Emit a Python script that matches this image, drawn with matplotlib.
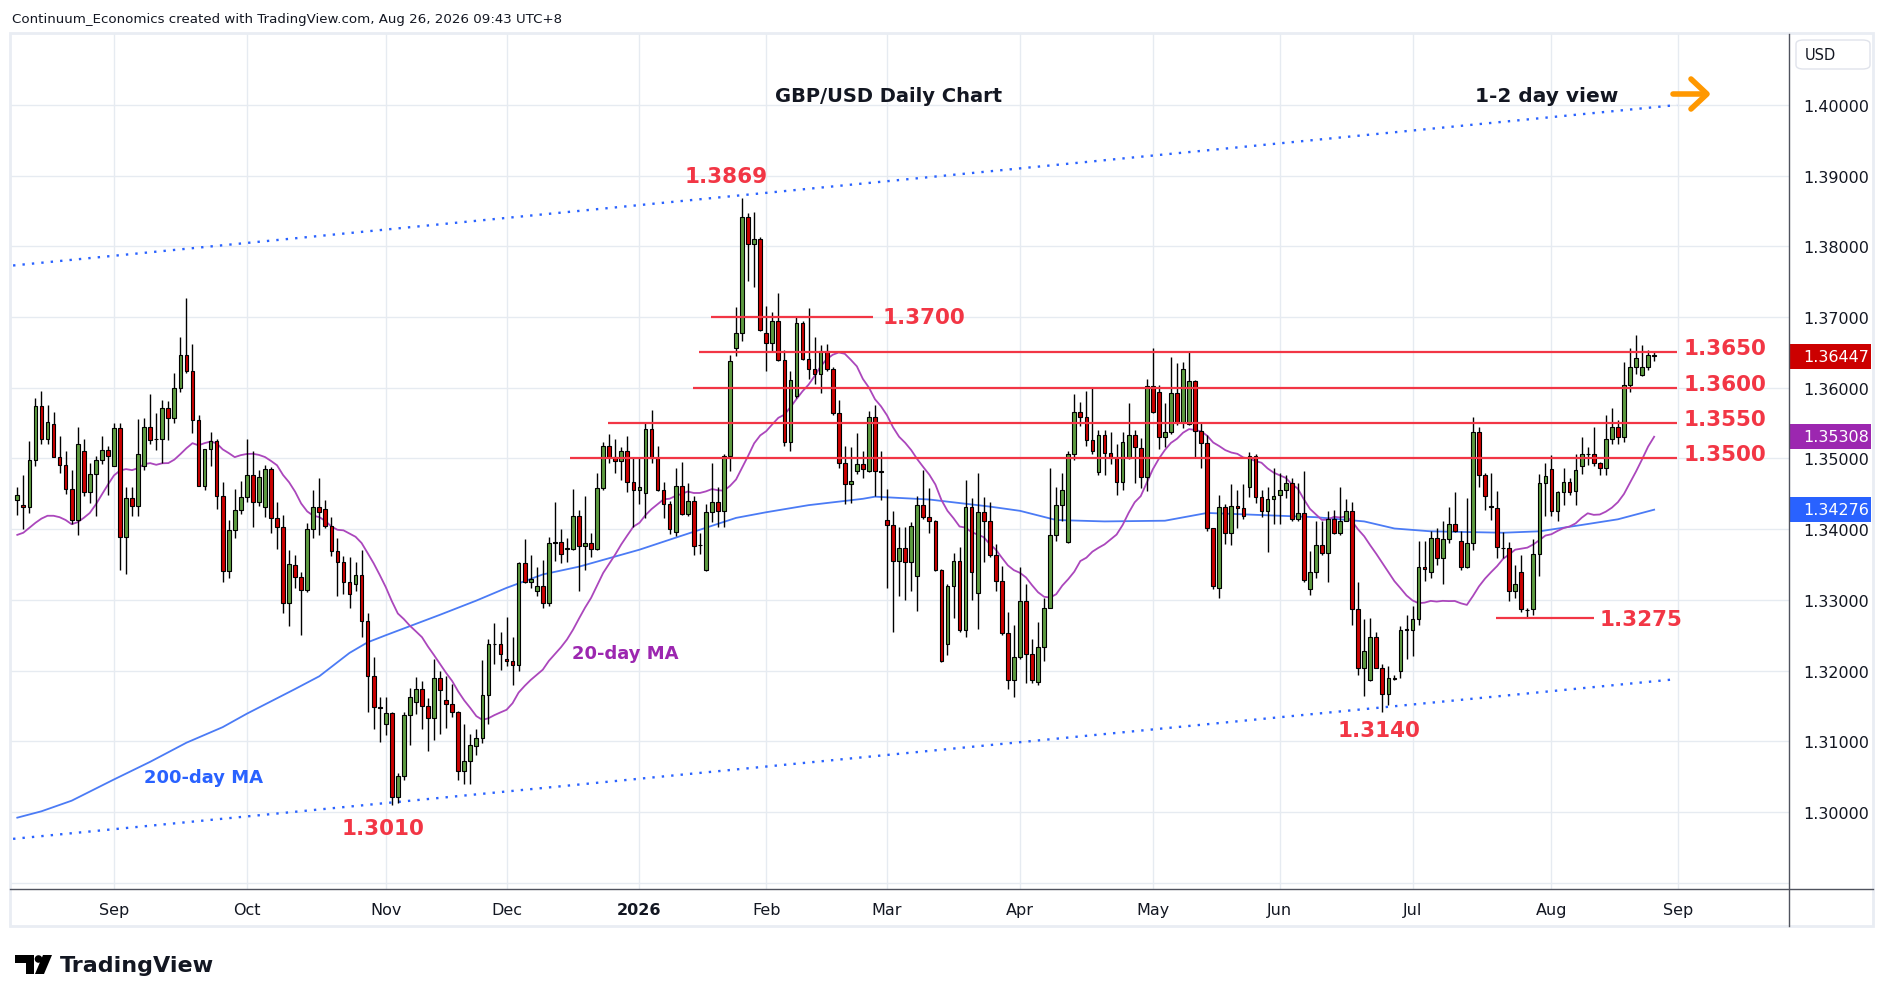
import numpy as np
import pandas as pd
import matplotlib
matplotlib.use("Agg")
import matplotlib.pyplot as plt
from matplotlib.lines import Line2D
from matplotlib.patches import Rectangle, Polygon, Circle, FancyBboxPatch
from matplotlib.transforms import blended_transform_factory, IdentityTransform

W, H = 1889, 1003

# daily GBP/USD candles, 8 Aug 2025 .. 26 Aug 2026
opens = [
    1.3441, 1.3434, 1.3432, 1.3498, 1.3574, 1.3528, 1.3549, 1.3502, 1.3491, 1.3457,
    1.3413, 1.3511, 1.3453, 1.3478, 1.3498, 1.3512, 1.3490, 1.3543, 1.3389, 1.3444,
    1.3433, 1.3490, 1.3545, 1.3528, 1.3528, 1.3571, 1.3557, 1.3600, 1.3647, 1.3624,
    1.3555, 1.3461, 1.3514, 1.3525, 1.3447, 1.3341, 1.3399, 1.3427, 1.3446, 1.3477,
    1.3439, 1.3432, 1.3485, 1.3416, 1.3403, 1.3296, 1.3350, 1.3332, 1.3314, 1.3400,
    1.3432, 1.3429, 1.3404, 1.3369, 1.3354, 1.3325, 1.3322, 1.3335, 1.3270, 1.3193,
    1.3148, 1.3124, 1.3140, 1.3021, 1.3051, 1.3137, 1.3155, 1.3174, 1.3150, 1.3133,
    1.3190, 1.3158, 1.3153, 1.3141, 1.3058, 1.3072, 1.3094, 1.3105, 1.3165, 1.3238,
    1.3238, 1.3217, 1.3213, 1.3208, 1.3352, 1.3325, 1.3313, 1.3320, 1.3295, 1.3382,
    1.3382, 1.3372, 1.3372, 1.3418, 1.3376, 1.3380, 1.3372, 1.3458, 1.3517, 1.3502,
    1.3496, 1.3510, 1.3467, 1.3455, 1.3451, 1.3542, 1.3501, 1.3456, 1.3435, 1.3396,
    1.3461, 1.3421, 1.3440, 1.3378, 1.3342, 1.3424, 1.3438, 1.3426, 1.3503, 1.3657,
    1.3677, 1.3842, 1.3804, 1.3810, 1.3678, 1.3663, 1.3694, 1.3640, 1.3524, 1.3588,
    1.3691, 1.3641, 1.3627, 1.3619, 1.3652, 1.3626, 1.3564, 1.3493, 1.3464, 1.3483,
    1.3492, 1.3483, 1.3559, 1.3482, 1.3413, 1.3406, 1.3355, 1.3374, 1.3354, 1.3334,
    1.3434, 1.3417, 1.3412, 1.3342, 1.3237, 1.3320, 1.3355, 1.3258, 1.3431, 1.3310,
    1.3424, 1.3412, 1.3363, 1.3327, 1.3253, 1.3187, 1.3219, 1.3299, 1.3224, 1.3184,
    1.3233, 1.3289, 1.3392, 1.3434, 1.3382, 1.3506, 1.3566, 1.3558, 1.3526, 1.3481,
    1.3533, 1.3508, 1.3501, 1.3467, 1.3501, 1.3533, 1.3515, 1.3474, 1.3603, 1.3594,
    1.3531, 1.3537, 1.3592, 1.3551, 1.3549, 1.3609, 1.3539, 1.3522, 1.3401, 1.3317,
    1.3432, 1.3394, 1.3433, 1.3430, 1.3459, 1.3503, 1.3446, 1.3426, 1.3443, 1.3448,
    1.3455, 1.3465, 1.3415, 1.3423, 1.3316, 1.3339, 1.3378, 1.3367, 1.3415, 1.3394,
    1.3412, 1.3426, 1.3287, 1.3203, 1.3186, 1.3248, 1.3204, 1.3167, 1.3189, 1.3199,
    1.3258, 1.3258, 1.3273, 1.3346, 1.3340, 1.3388, 1.3359, 1.3386, 1.3408, 1.3383,
    1.3347, 1.3381, 1.3538, 1.3476, 1.3433, 1.3430, 1.3374, 1.3373, 1.3313, 1.3340,
    1.3286, 1.3287, 1.3365, 1.3465, 1.3485, 1.3426, 1.3452, 1.3467, 1.3454, 1.3490,
    1.3507, 1.3506, 1.3494, 1.3486, 1.3527, 1.3544, 1.3531, 1.3604, 1.3630, 1.3618,
    1.3630, 1.3647,
]
highs = [
    1.3460, 1.3477, 1.3525, 1.3586, 1.3596, 1.3576, 1.3566, 1.3532, 1.3510, 1.3484,
    1.3545, 1.3528, 1.3494, 1.3503, 1.3532, 1.3518, 1.3550, 1.3550, 1.3459, 1.3460,
    1.3556, 1.3557, 1.3591, 1.3565, 1.3583, 1.3581, 1.3621, 1.3672, 1.3727, 1.3662,
    1.3561, 1.3514, 1.3537, 1.3528, 1.3467, 1.3413, 1.3457, 1.3468, 1.3528, 1.3511,
    1.3484, 1.3491, 1.3488, 1.3439, 1.3420, 1.3371, 1.3364, 1.3340, 1.3409, 1.3455,
    1.3472, 1.3442, 1.3417, 1.3387, 1.3362, 1.3361, 1.3353, 1.3370, 1.3281, 1.3219,
    1.3162, 1.3162, 1.3142, 1.3055, 1.3142, 1.3175, 1.3191, 1.3185, 1.3161, 1.3216,
    1.3200, 1.3192, 1.3181, 1.3143, 1.3125, 1.3110, 1.3118, 1.3215, 1.3245, 1.3268,
    1.3254, 1.3276, 1.3247, 1.3354, 1.3386, 1.3364, 1.3346, 1.3357, 1.3389, 1.3438,
    1.3400, 1.3387, 1.3457, 1.3427, 1.3447, 1.3394, 1.3479, 1.3524, 1.3535, 1.3527,
    1.3516, 1.3532, 1.3501, 1.3502, 1.3550, 1.3569, 1.3517, 1.3467, 1.3440, 1.3487,
    1.3495, 1.3466, 1.3447, 1.3395, 1.3436, 1.3493, 1.3460, 1.3507, 1.3647, 1.3714,
    1.3869, 1.3847, 1.3849, 1.3814, 1.3716, 1.3707, 1.3734, 1.3654, 1.3624, 1.3702,
    1.3694, 1.3713, 1.3672, 1.3661, 1.3662, 1.3629, 1.3583, 1.3517, 1.3516, 1.3536,
    1.3511, 1.3567, 1.3576, 1.3510, 1.3457, 1.3426, 1.3403, 1.3403, 1.3410, 1.3447,
    1.3484, 1.3458, 1.3413, 1.3344, 1.3322, 1.3366, 1.3375, 1.3469, 1.3444, 1.3480,
    1.3446, 1.3438, 1.3379, 1.3348, 1.3283, 1.3265, 1.3347, 1.3322, 1.3245, 1.3269,
    1.3303, 1.3486, 1.3460, 1.3479, 1.3511, 1.3591, 1.3580, 1.3596, 1.3600, 1.3541,
    1.3541, 1.3537, 1.3520, 1.3537, 1.3578, 1.3541, 1.3529, 1.3612, 1.3657, 1.3604,
    1.3578, 1.3643, 1.3635, 1.3637, 1.3652, 1.3611, 1.3551, 1.3533, 1.3402, 1.3449,
    1.3436, 1.3464, 1.3456, 1.3464, 1.3509, 1.3506, 1.3456, 1.3460, 1.3486, 1.3480,
    1.3477, 1.3472, 1.3465, 1.3483, 1.3369, 1.3411, 1.3411, 1.3426, 1.3427, 1.3460,
    1.3443, 1.3439, 1.3325, 1.3273, 1.3274, 1.3254, 1.3209, 1.3206, 1.3194, 1.3263,
    1.3278, 1.3292, 1.3384, 1.3384, 1.3397, 1.3401, 1.3411, 1.3431, 1.3452, 1.3397,
    1.3444, 1.3558, 1.3544, 1.3480, 1.3480, 1.3454, 1.3396, 1.3382, 1.3349, 1.3363,
    1.3288, 1.3386, 1.3478, 1.3494, 1.3505, 1.3454, 1.3486, 1.3473, 1.3507, 1.3531,
    1.3516, 1.3545, 1.3495, 1.3561, 1.3571, 1.3554, 1.3637, 1.3657, 1.3675, 1.3660,
    1.3653, 1.3650,
]
lows = [
    1.3420, 1.3400, 1.3423, 1.3490, 1.3521, 1.3521, 1.3502, 1.3479, 1.3450, 1.3407,
    1.3392, 1.3447, 1.3437, 1.3418, 1.3492, 1.3448, 1.3490, 1.3342, 1.3336, 1.3418,
    1.3418, 1.3484, 1.3521, 1.3512, 1.3494, 1.3526, 1.3550, 1.3594, 1.3621, 1.3536,
    1.3461, 1.3456, 1.3489, 1.3429, 1.3326, 1.3331, 1.3388, 1.3422, 1.3439, 1.3403,
    1.3433, 1.3417, 1.3395, 1.3372, 1.3282, 1.3263, 1.3317, 1.3250, 1.3311, 1.3387,
    1.3392, 1.3401, 1.3362, 1.3306, 1.3308, 1.3288, 1.3312, 1.3248, 1.3141, 1.3118,
    1.3099, 1.3109, 1.3010, 1.3013, 1.3045, 1.3095, 1.3139, 1.3118, 1.3086, 1.3102,
    1.3110, 1.3119, 1.3134, 1.3045, 1.3039, 1.3039, 1.3081, 1.3098, 1.3125, 1.3210,
    1.3201, 1.3207, 1.3180, 1.3200, 1.3324, 1.3317, 1.3306, 1.3288, 1.3292, 1.3355,
    1.3352, 1.3354, 1.3371, 1.3313, 1.3342, 1.3360, 1.3370, 1.3456, 1.3494, 1.3479,
    1.3470, 1.3452, 1.3403, 1.3435, 1.3416, 1.3494, 1.3454, 1.3416, 1.3393, 1.3390,
    1.3420, 1.3418, 1.3364, 1.3365, 1.3341, 1.3410, 1.3403, 1.3403, 1.3483, 1.3645,
    1.3666, 1.3751, 1.3743, 1.3681, 1.3624, 1.3652, 1.3638, 1.3518, 1.3510, 1.3586,
    1.3639, 1.3612, 1.3605, 1.3592, 1.3624, 1.3562, 1.3487, 1.3435, 1.3437, 1.3478,
    1.3472, 1.3481, 1.3447, 1.3441, 1.3317, 1.3255, 1.3306, 1.3300, 1.3313, 1.3285,
    1.3415, 1.3395, 1.3341, 1.3212, 1.3222, 1.3275, 1.3254, 1.3247, 1.3300, 1.3259,
    1.3353, 1.3361, 1.3313, 1.3251, 1.3174, 1.3162, 1.3217, 1.3183, 1.3183, 1.3179,
    1.3214, 1.3288, 1.3384, 1.3412, 1.3380, 1.3498, 1.3546, 1.3518, 1.3507, 1.3477,
    1.3477, 1.3492, 1.3449, 1.3456, 1.3499, 1.3466, 1.3458, 1.3454, 1.3564, 1.3514,
    1.3516, 1.3534, 1.3547, 1.3543, 1.3547, 1.3501, 1.3486, 1.3397, 1.3316, 1.3303,
    1.3379, 1.3377, 1.3401, 1.3415, 1.3446, 1.3437, 1.3417, 1.3368, 1.3408, 1.3407,
    1.3444, 1.3412, 1.3411, 1.3326, 1.3307, 1.3331, 1.3364, 1.3326, 1.3393, 1.3392,
    1.3411, 1.3264, 1.3194, 1.3164, 1.3185, 1.3203, 1.3141, 1.3152, 1.3187, 1.3190,
    1.3216, 1.3220, 1.3265, 1.3327, 1.3331, 1.3350, 1.3323, 1.3380, 1.3396, 1.3342,
    1.3345, 1.3371, 1.3460, 1.3427, 1.3413, 1.3359, 1.3359, 1.3299, 1.3303, 1.3283,
    1.3274, 1.3278, 1.3334, 1.3418, 1.3418, 1.3411, 1.3434, 1.3448, 1.3434, 1.3478,
    1.3491, 1.3490, 1.3477, 1.3477, 1.3521, 1.3521, 1.3524, 1.3594, 1.3619, 1.3616,
    1.3625, 1.3638,
]
closes = [
    1.3449, 1.3432, 1.3498, 1.3574, 1.3528, 1.3552, 1.3502, 1.3491, 1.3457, 1.3413,
    1.3521, 1.3453, 1.3478, 1.3498, 1.3512, 1.3504, 1.3543, 1.3389, 1.3444, 1.3433,
    1.3506, 1.3545, 1.3526, 1.3527, 1.3571, 1.3557, 1.3600, 1.3647, 1.3624, 1.3555,
    1.3461, 1.3514, 1.3525, 1.3447, 1.3341, 1.3399, 1.3427, 1.3446, 1.3477, 1.3439,
    1.3474, 1.3485, 1.3416, 1.3403, 1.3296, 1.3351, 1.3333, 1.3314, 1.3400, 1.3432,
    1.3424, 1.3404, 1.3369, 1.3354, 1.3325, 1.3309, 1.3335, 1.3270, 1.3193, 1.3148,
    1.3147, 1.3140, 1.3021, 1.3051, 1.3137, 1.3162, 1.3174, 1.3150, 1.3133, 1.3190,
    1.3172, 1.3153, 1.3141, 1.3058, 1.3072, 1.3095, 1.3105, 1.3165, 1.3238, 1.3237,
    1.3224, 1.3213, 1.3208, 1.3352, 1.3325, 1.3330, 1.3320, 1.3295, 1.3381, 1.3381,
    1.3365, 1.3373, 1.3418, 1.3376, 1.3380, 1.3372, 1.3458, 1.3517, 1.3502, 1.3496,
    1.3510, 1.3467, 1.3455, 1.3459, 1.3542, 1.3501, 1.3456, 1.3435, 1.3400, 1.3461,
    1.3421, 1.3440, 1.3376, 1.3377, 1.3424, 1.3438, 1.3426, 1.3503, 1.3638, 1.3677,
    1.3842, 1.3804, 1.3810, 1.3682, 1.3663, 1.3694, 1.3640, 1.3524, 1.3611, 1.3691,
    1.3641, 1.3627, 1.3619, 1.3652, 1.3626, 1.3564, 1.3493, 1.3464, 1.3468, 1.3492,
    1.3485, 1.3559, 1.3482, 1.3481, 1.3406, 1.3355, 1.3374, 1.3354, 1.3405, 1.3434,
    1.3417, 1.3412, 1.3342, 1.3214, 1.3320, 1.3355, 1.3258, 1.3431, 1.3340, 1.3424,
    1.3412, 1.3363, 1.3327, 1.3253, 1.3187, 1.3219, 1.3299, 1.3224, 1.3186, 1.3233,
    1.3289, 1.3392, 1.3434, 1.3456, 1.3506, 1.3566, 1.3558, 1.3526, 1.3511, 1.3533,
    1.3508, 1.3501, 1.3467, 1.3523, 1.3533, 1.3516, 1.3474, 1.3603, 1.3566, 1.3531,
    1.3537, 1.3592, 1.3551, 1.3627, 1.3609, 1.3539, 1.3522, 1.3401, 1.3319, 1.3432,
    1.3394, 1.3433, 1.3430, 1.3419, 1.3503, 1.3446, 1.3426, 1.3443, 1.3447, 1.3455,
    1.3465, 1.3415, 1.3423, 1.3328, 1.3339, 1.3378, 1.3366, 1.3415, 1.3394, 1.3412,
    1.3426, 1.3287, 1.3203, 1.3228, 1.3248, 1.3204, 1.3167, 1.3189, 1.3188, 1.3257,
    1.3259, 1.3273, 1.3346, 1.3344, 1.3388, 1.3359, 1.3386, 1.3408, 1.3397, 1.3347,
    1.3381, 1.3538, 1.3476, 1.3447, 1.3431, 1.3375, 1.3374, 1.3313, 1.3322, 1.3287,
    1.3286, 1.3365, 1.3465, 1.3475, 1.3426, 1.3452, 1.3467, 1.3453, 1.3484, 1.3507,
    1.3507, 1.3494, 1.3486, 1.3527, 1.3544, 1.3531, 1.3604, 1.3630, 1.3642, 1.3630,
    1.3647, 1.36447,
]

# 20-day MA before 20 closes are available
ma20_head = [1.3392, 1.3395, 1.3402, 1.3409, 1.3415, 1.3419, 1.3419, 1.3417, 1.3413, 1.3407,
             1.3410, 1.3416, 1.3423, 1.3435, 1.3449, 1.3463, 1.3476, 1.3483, 1.3485]

# 200-day MA sampled along the blue line (bar number, value)
ma200_bar = [0, 4, 9, 16, 22, 28, 34, 38, 46, 50, 55, 58, 61, 70, 76, 81, 87, 93, 103, 109,
             114, 119, 124, 131, 140, 142, 151, 161, 166, 172, 180, 190, 197, 206, 215, 223,
             228, 234, 246, 252, 259, 265, 271]
ma200_val = [1.2992, 1.3001, 1.3016, 1.3046, 1.3071, 1.3098, 1.3120, 1.3139, 1.3174, 1.3192,
             1.3225, 1.3240, 1.3250, 1.3279, 1.3299, 1.3317, 1.3336, 1.3347, 1.3371, 1.3388,
             1.3402, 1.3416, 1.3424, 1.3434, 1.3443, 1.3446, 1.3442, 1.3432, 1.3426, 1.3413,
             1.3411, 1.3412, 1.3423, 1.3420, 1.3417, 1.3411, 1.3401, 1.3397, 1.3395, 1.3397,
             1.3406, 1.3414, 1.34276]

right_levels = [1.3650, 1.3600, 1.3550, 1.3500]
right_starts = [112.8, 111.8, 97.8, 91.5]
pivot_text = ["1.3869", "1.3010", "1.3140"]
pivot_pos = [(117.3, 1.38996), (60.5, 1.29774), (225.4, 1.3116)]

GREEN = "#5d9b40"
RED = "#cc0000"
LINE_RED = "#f23645"
GRID = "#e6ebf1"
TXT = "#131722"

o = np.array(opens); h = np.array(highs); l = np.array(lows); c = np.array(closes)
n = len(c)
x = np.arange(n)

days = pd.bdate_range("2025-08-08", "2026-09-01")
days = days.drop(pd.to_datetime(["2025-12-25", "2026-01-01"]))
pos = pd.Series(np.arange(len(days)), index=days)
firsts = pos.groupby([days.year, days.month]).first().iloc[1:]
month_pos = list(firsts.values)
month_lab = ["2026" if days[i].month == 1 else days[i].strftime("%b") for i in month_pos]

ma20 = pd.Series(c).rolling(20).mean().values
ma20[:19] = ma20_head

fig = plt.figure(figsize=(W / 100, H / 100), dpi=100)
fig.patch.set_facecolor("white")

def fx(px):
    return px / W

def fy(py):
    return 1 - py / H

ax = fig.add_axes([fx(10), fy(891), fx(1789) - fx(10), fy(35) - fy(891)])
ax.set_xlim((10 - 17.3) / 6.04, (1789 - 17.3) / 6.04)
ax.set_ylim(1.40 - 785 / 7070, 1.40 + 71 / 7070)
for s in ax.spines.values():
    s.set_visible(False)

for p in np.arange(1.29, 1.4005, 0.01):
    ax.axhline(p, color=GRID, lw=1, zorder=0)
for m in month_pos:
    ax.axvline(m, color=GRID, lw=1, zorder=0)

ax.set_xticks(month_pos)
ax.set_xticklabels(month_lab, fontsize=11.5, color=TXT)
for t, lab in zip(ax.get_xticklabels(), month_lab):
    if lab == "2026":
        t.set_fontweight("bold")
ax.tick_params(axis="x", length=0, pad=9)
ax.yaxis.tick_right()
yt = np.round(np.arange(1.30, 1.4005, 0.01), 2)
ax.set_yticks(yt)
ax.set_yticklabels([f"{v:.5f}" for v in yt], fontsize=11.5, color=TXT)
ax.tick_params(axis="y", length=0, pad=10)

# trend channel
ax.plot([-0.7, 274.8], [1.2962, 1.3188], ls=(0, (1, 3)), color="#2962ff", lw=1.7, zorder=1)
ax.plot([-0.7, 274.8], [1.3773, 1.4000], ls=(0, (1, 3)), color="#2962ff", lw=1.7, zorder=1)

# moving averages
ax.plot(ma200_bar, ma200_val, color="#4b7bf5", lw=1.3, zorder=2)
ax.plot(x, ma20, color="#ab47bc", lw=1.3, zorder=2)

# candles
up = c >= o
ax.vlines(x, l, h, color="black", lw=1, zorder=3)
ax.bar(x, np.abs(c - o), bottom=np.minimum(o, c), width=0.62,
       color=np.where(up, GREEN, RED), edgecolor="black", linewidth=0.8, zorder=4)

# support / resistance
ax.hlines(right_levels, right_starts, 274.8, color=LINE_RED, lw=1.6, zorder=5)
ax.hlines(1.3700, 114.8, 141.7, color=LINE_RED, lw=1.6, zorder=5)
ax.hlines(1.3275, 244.8, 261.0, color=LINE_RED, lw=1.6, zorder=5)
lab_kw = dict(color=LINE_RED, fontsize=15.5, fontweight="bold", zorder=6)
for lv in right_levels:
    ax.text(275.8, lv + 0.0006, f"{lv:.4f}", ha="left", va="center", **lab_kw)
ax.text(143.2, 1.3700, "1.3700", ha="left", va="center", **lab_kw)
ax.text(262.0, 1.3273, "1.3275", ha="left", va="center", **lab_kw)
for t, (px_, py_) in zip(pivot_text, pivot_pos):
    ax.text(px_, py_, t, ha="center", va="center", **lab_kw)

ax.text(100.6, 1.32249, "20-day MA", ha="center", va="center", color="#9c27b0",
        fontsize=13, fontweight="bold", zorder=6)
ax.text(30.9, 1.30495, "200-day MA", ha="center", va="center", color="#2962ff",
        fontsize=13, fontweight="bold", zorder=6)

# price boxes on the scale
tr = blended_transform_factory(ax.transAxes, ax.transData)
bw = (1871 - 1789) / 1779
hh = 12.5 / 7070
lab_x = (1803 - 10) / 1779
for val, col in [(c[-1], RED), (ma20[-1], "#9c27b0"), (ma200_val[-1], "#2962ff")]:
    ax.add_patch(Rectangle((1.0, val - hh), bw, 2 * hh, transform=tr, facecolor=col,
                           edgecolor="none", clip_on=False, zorder=10))
    ax.text(lab_x, val, f"{val:.5f}", transform=tr, ha="left", va="center", color="white",
            fontsize=11.5, clip_on=False, zorder=11)

# frame and axis lines
fig.add_artist(Rectangle((fx(10), fy(927)), fx(1873) - fx(10), fy(34) - fy(927),
                         transform=fig.transFigure, fill=False, edgecolor="#e9edf3", lw=2))
fig.add_artist(Line2D([fx(10), fx(1873)], [fy(890), fy(890)], color="#50535e", lw=1))
fig.add_artist(Line2D([fx(1789), fx(1789)], [fy(35), fy(927)], color="#50535e", lw=1))
fig.add_artist(FancyBboxPatch((fx(1796), fy(70)), fx(1870) - fx(1796), fy(41) - fy(70),
                              boxstyle="round,pad=0,rounding_size=0.004",
                              transform=fig.transFigure, facecolor="white",
                              edgecolor="#e0e3eb", lw=1))
fig.text(fx(1805), fy(55), "USD", fontsize=10.5, color=TXT, va="center", ha="left")

# titles
fig.text(fx(12), fy(20), "Continuum_Economics created with TradingView.com, Aug 26, 2026 09:43 UTC+8",
         fontsize=9.6, color=TXT, va="center", ha="left",
         family=["Liberation Sans Narrow", "DejaVu Sans"])
fig.text(fx(889), fy(96), "GBP/USD Daily Chart", fontsize=14, fontweight="bold",
         color=TXT, ha="center", va="center")
fig.text(fx(1547), fy(97), "1-2 day view", fontsize=14.5, fontweight="bold",
         color=TXT, ha="center", va="center")
ORANGE = "#ff9800"
fig.add_artist(Line2D([fx(1673), fx(1706)], [fy(95), fy(95)], color=ORANGE, lw=4,
                      solid_capstyle="round"))
fig.add_artist(Line2D([fx(1691), fx(1707), fx(1691)], [fy(80), fy(95), fy(110)], color=ORANGE,
                      lw=4, solid_capstyle="round", solid_joinstyle="round"))

# TradingView logo
ident = IdentityTransform()
def pix(pts):
    return [(px_, H - py_) for px_, py_ in pts]
fig.add_artist(Polygon(pix([(15, 956), (34, 956), (34, 975), (26, 975), (26, 964), (15, 964)]),
                       closed=True, transform=ident, facecolor="black", edgecolor="none"))
fig.add_artist(Circle((38.5, H - 960), 3.8, transform=ident, facecolor="black", edgecolor="none"))
fig.add_artist(Polygon(pix([(43, 956), (52, 956), (44, 975), (35, 975)]),
                       closed=True, transform=ident, facecolor="black", edgecolor="none"))
fig.text(fx(60), fy(966), "TradingView", fontsize=16, fontweight="bold", color=TXT,
         ha="left", va="center")

fig.savefig("out.png", dpi=100, facecolor="white")
